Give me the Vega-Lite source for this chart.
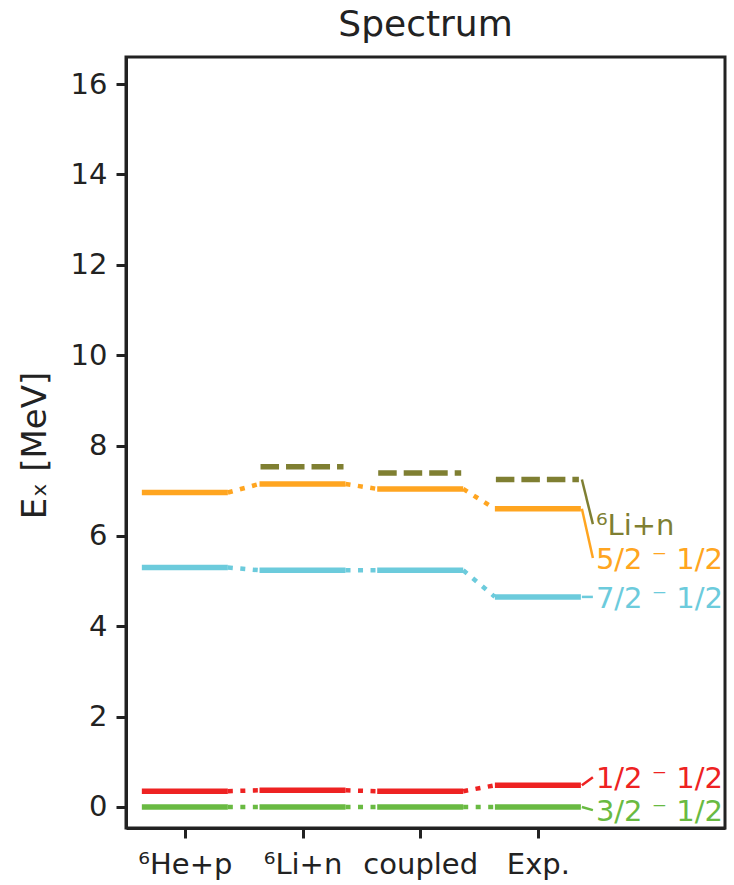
{
  "$schema": "https://vega.github.io/schema/vega-lite/v6.json",
  "autosize": {"type": "none"},
  "padding": {"left": 126, "top": 57, "right": 9, "bottom": 57},
  "width": 599,
  "height": 771,
  "background": "white",
  "title": {
    "text": "Spectrum",
    "font": "DejaVu Sans",
    "fontSize": 36,
    "fontWeight": "normal",
    "color": "#222222",
    "anchor": "middle",
    "frame": "group",
    "baseline": "bottom",
    "offset": -23
  },
  "config": {
    "font": "DejaVu Sans",
    "view": {"stroke": "#222222", "strokeWidth": 3},
    "axis": {
      "grid": false,
      "domainColor": "#222222",
      "domainWidth": 3,
      "tickColor": "#222222",
      "tickWidth": 3,
      "tickSize": 10,
      "labelColor": "#222222",
      "labelFont": "DejaVu Sans",
      "labelFontSize": 29,
      "titleFont": "DejaVu Sans",
      "titleColor": "#222222",
      "titleFontWeight": "normal"
    }
  },
  "datasets": {
    "levels": [
      {"col": 0, "state": "5/2", "e": 6.96},
      {"col": 0, "state": "7/2", "e": 5.30},
      {"col": 0, "state": "1/2", "e": 0.35},
      {"col": 0, "state": "3/2", "e": 0.0},
      {"col": 1, "state": "5/2", "e": 7.15},
      {"col": 1, "state": "7/2", "e": 5.24},
      {"col": 1, "state": "1/2", "e": 0.37},
      {"col": 1, "state": "3/2", "e": 0.0},
      {"col": 1, "state": "thr", "e": 7.53},
      {"col": 2, "state": "5/2", "e": 7.04},
      {"col": 2, "state": "7/2", "e": 5.24},
      {"col": 2, "state": "1/2", "e": 0.35},
      {"col": 2, "state": "3/2", "e": 0.0},
      {"col": 2, "state": "thr", "e": 7.39},
      {"col": 3, "state": "5/2", "e": 6.60},
      {"col": 3, "state": "7/2", "e": 4.65},
      {"col": 3, "state": "1/2", "e": 0.48},
      {"col": 3, "state": "3/2", "e": 0.0},
      {"col": 3, "state": "thr", "e": 7.25}
    ],
    "tags": [
      {"col": 3, "state": "thr", "e": 7.25, "tag_e": 6.26, "text": "⁶Li+n"},
      {"col": 3, "state": "5/2", "e": 6.60, "tag_e": 5.51, "text": "5/2 ⁻ 1/2"},
      {"col": 3, "state": "7/2", "e": 4.65, "tag_e": 4.65, "text": "7/2 ⁻ 1/2"},
      {"col": 3, "state": "1/2", "e": 0.48, "tag_e": 0.66, "text": "1/2 ⁻ 1/2"},
      {"col": 3, "state": "3/2", "e": 0.0, "tag_e": -0.07, "text": "3/2 ⁻ 1/2"}
    ]
  },
  "encoding": {
    "x": {
      "field": "col",
      "type": "quantitative",
      "scale": {"domain": [-0.5, 4.59], "nice": false, "zero": false},
      "axis": {
        "title": null,
        "values": [0, 1, 2, 3],
        "labelExpr": "['⁶He+p', '⁶Li+n', 'coupled', 'Exp.'][datum.value]",
        "labelFontSize": 29,
        "labelPadding": 12,
        "labelFlush": false
      }
    },
    "y": {
      "field": "e",
      "type": "quantitative",
      "scale": {"domain": [-0.465, 16.6], "nice": false, "zero": false},
      "axis": {
        "title": "Eₓ [MeV]",
        "titleFontSize": 34,
        "titleAngle": -90,
        "titleX": -91,
        "titleY": 388,
        "titleAlign": "center",
        "titleBaseline": "middle",
        "values": [0, 2, 4, 6, 8, 10, 12, 14, 16],
        "labelFontSize": 29,
        "labelPadding": 9
      }
    },
    "color": {
      "field": "state",
      "type": "nominal",
      "scale": {
        "domain": ["5/2", "7/2", "1/2", "3/2", "thr"],
        "range": ["#ffa520", "#6ccbdc", "#ee2222", "#69ba42", "#7f7f32"]
      },
      "legend": null
    }
  },
  "layer": [
    {
      "data": {"name": "levels"},
      "transform": [
        {"filter": "datum.state !== 'thr'"},
        {
          "window": [
            {"op": "lead", "field": "e", "as": "next_e"},
            {"op": "lead", "field": "col", "as": "next_col"}
          ],
          "groupby": ["state"],
          "sort": [{"field": "col", "order": "ascending"}],
          "frame": [null, null]
        },
        {"filter": "datum.next_col != null"}
      ],
      "mark": {
        "type": "rule",
        "strokeWidth": 4.5,
        "strokeDash": [5, 7.5],
        "strokeCap": "butt",
        "xOffset": 43,
        "x2Offset": -43
      },
      "encoding": {
        "x2": {"field": "next_col"},
        "y2": {"field": "next_e"}
      }
    },
    {
      "data": {"name": "levels"},
      "transform": [{"filter": "datum.state !== 'thr'"}],
      "mark": {
        "type": "rule",
        "strokeWidth": 5.5,
        "strokeCap": "butt",
        "xOffset": -43,
        "x2Offset": 43
      },
      "encoding": {"x2": {"field": "col"}}
    },
    {
      "data": {"name": "levels"},
      "transform": [{"filter": "datum.state === 'thr'"}],
      "mark": {
        "type": "rule",
        "strokeWidth": 5.5,
        "strokeCap": "butt",
        "strokeDash": [18.5, 7],
        "xOffset": -42,
        "x2Offset": 41
      },
      "encoding": {"x2": {"field": "col"}}
    },
    {
      "data": {"name": "tags"},
      "mark": {
        "type": "rule",
        "strokeWidth": 2.5,
        "xOffset": 44,
        "x2Offset": 55
      },
      "encoding": {
        "x2": {"field": "col"},
        "y2": {"field": "tag_e"}
      }
    },
    {
      "data": {"name": "tags"},
      "mark": {
        "type": "text",
        "align": "left",
        "baseline": "middle",
        "font": "DejaVu Sans",
        "fontSize": 29,
        "xOffset": 58,
        "yOffset": 2
      },
      "encoding": {
        "y": {"field": "tag_e", "type": "quantitative"},
        "text": {"field": "text"}
      }
    }
  ]
}
